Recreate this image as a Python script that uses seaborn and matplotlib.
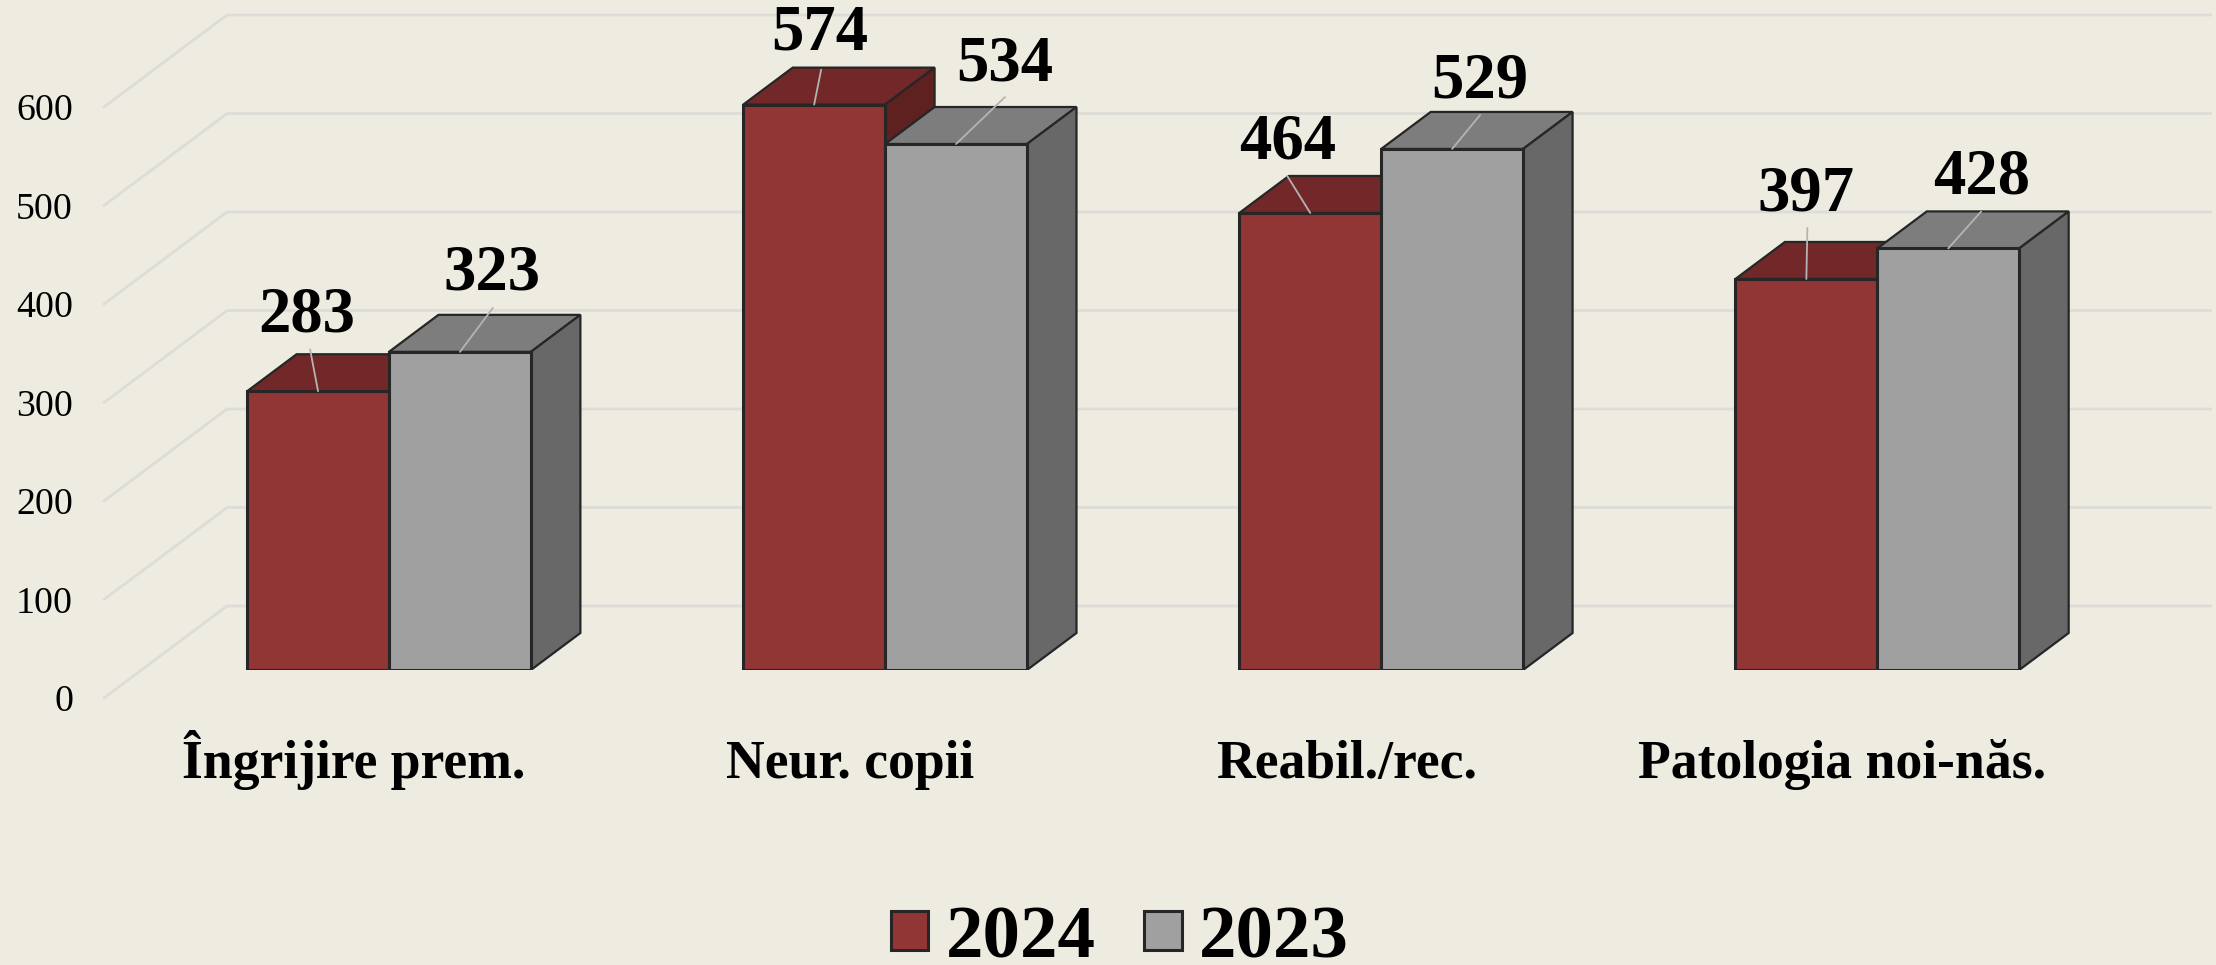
import matplotlib
matplotlib.use("Agg")
import matplotlib.pyplot as plt
from matplotlib.patches import Polygon
from matplotlib.transforms import ScaledTranslation
import pandas as pd
import seaborn as sns

categories = ["Îngrijire prem.", "Neur. copii", "Reabil./rec.", "Patologia noi-năs."]
values_2024 = [283, 574, 464, 397]
values_2023 = [323, 534, 529, 428]
years = ["2024", "2023"]
y_ticks = [0, 100, 200, 300, 400, 500, 600]

W, H = 2216, 965
BG = "#EEECE1"
front_cols = {"2024": "#923535", "2023": "#A0A0A0"}
top_cols = {"2024": "#722828", "2023": "#7D7D7D"}
side_cols = {"2024": "#5F2020", "2023": "#686868"}
EDGE = "#262626"

# pixel layout of the fake 3D box
X_UNIT = 496.1   # px per category
Y_UNIT = 0.985   # px per value
X0 = 389.0       # px of first category centre
AX_LEFT = 104
AX_BOTTOM = 670
DEPTH_X, DEPTH_Y = 49.5 / X_UNIT, 37 / Y_UNIT

sns.set_theme(style="white")
plt.rcParams["font.family"] = ["Liberation Serif", "DejaVu Serif"]
plt.rcParams["text.color"] = "black"

df = pd.DataFrame({
    "cat": categories * 2,
    "val": values_2024 + values_2023,
    "year": [years[0]] * 4 + [years[1]] * 4,
})

fig = plt.figure(figsize=(W / 100, H / 100), dpi=100, facecolor=BG)
ax = fig.add_axes([AX_LEFT / W, (H - AX_BOTTOM) / H, (W - AX_LEFT) / W, AX_BOTTOM / H])
ax.set_facecolor("none")

sns.barplot(data=df, x="cat", y="val", hue="year", hue_order=years, palette=front_cols,
            width=0.572, gap=0, dodge=True, saturation=1, edgecolor=EDGE, linewidth=2.2, ax=ax)

ax.set_xlim((AX_LEFT - X0) / X_UNIT, (W - X0) / X_UNIT)
ax.set_ylim(0, AX_BOTTOM / Y_UNIT)
ax.set_xlabel("")
ax.set_ylabel("")
sns.despine(ax=ax, left=True, bottom=True, top=True, right=True)

# walls: diagonal on the floor side, then flat along the back
back_x = AX_LEFT + 123
x_front = ax.get_xlim()[0]
x_back = (back_x - X0) / X_UNIT
x_end = (2211 - X0) / X_UNIT
for t in y_ticks:
    ax.plot([x_front, x_back, x_end], [t - 28 / Y_UNIT, t + 64 / Y_UNIT, t + 64 / Y_UNIT],
            color="#DDDCD8", lw=2, zorder=0.5, clip_on=False, solid_joinstyle="round")

# depth faces, built from the bars seaborn drew
for k, (year, cont) in enumerate(zip(years, ax.containers)):
    base = 2 + 2 * k
    for bar in cont:
        x = bar.get_x()
        w = bar.get_width()
        h = bar.get_height()
        bar.set_zorder(base + 1)
        top = [(x, h), (x + w, h), (x + w + DEPTH_X, h + DEPTH_Y), (x + DEPTH_X, h + DEPTH_Y)]
        side = [(x + w, 0), (x + w + DEPTH_X, DEPTH_Y), (x + w + DEPTH_X, h + DEPTH_Y), (x + w, h)]
        ax.add_patch(Polygon(top, closed=True, fc=top_cols[year], ec=EDGE, lw=1.6, zorder=base))
        ax.add_patch(Polygon(side, closed=True, fc=side_cols[year], ec=EDGE, lw=1.6, zorder=base))

# tick labels are shifted off their usual place
ax.set_xticks(range(len(categories)))
ax.set_xticklabels(categories, fontsize=38.6, fontweight="bold", color="black")
ax.set_yticks(y_ticks)
ax.set_yticklabels([str(t) for t in y_ticks], fontsize=27.3, color="black")
ax.tick_params(axis="x", length=0, pad=108 * 0.72)
ax.tick_params(axis="y", length=0, pad=31 * 0.72)
shift_x = ScaledTranslation(-35 / 100, 0, fig.dpi_scale_trans)
shift_y = ScaledTranslation(0, -28 / 100, fig.dpi_scale_trans)
for lab in ax.get_xticklabels():
    lab.set_va("baseline")
    lab.set_transform(lab.get_transform() + shift_x)
for lab in ax.get_yticklabels():
    lab.set_transform(lab.get_transform() + shift_y)

# value labels and leader lines, offsets in px from the bar top centre
text_off = {"2024": [(-11, 76), (6, 71), (-23, 70), (0, 84)],
            "2023": [(32, 78), (49, 80), (28, 67), (33, 71)]}
line_off = {"2024": [(-8, 42), (7, 35), (-23, 37), (1, 51)],
            "2023": [(33, 44), (49, 47), (28, 34), (33, 37)]}
for year, cont in zip(years, ax.containers):
    for i, bar in enumerate(cont):
        xy = (bar.get_x() + bar.get_width() / 2, bar.get_height())
        ax.annotate("", xy=xy, xytext=line_off[year][i], textcoords="offset pixels",
                    arrowprops=dict(arrowstyle="-", color="#B4B4B4", lw=1.3, shrinkA=0, shrinkB=0),
                    zorder=9)
        ax.annotate(str(int(bar.get_height())), xy=xy, xytext=text_off[year][i],
                    textcoords="offset pixels", ha="center", va="center",
                    fontsize=46.5, fontweight="bold", color="black", zorder=10,
                    annotation_clip=False)

sns.move_legend(ax, "center", bbox_to_anchor=(1120 / W, 26 / H), bbox_transform=fig.transFigure,
                ncol=2, frameon=False, title=None, handlelength=0.5, handleheight=0.42,
                handletextpad=0.23, columnspacing=0.65, borderpad=0, borderaxespad=0,
                prop={"size": 54, "weight": "bold"}, labelcolor="black")

plt.savefig("out.png", dpi=100, facecolor=BG)
plt.close()
